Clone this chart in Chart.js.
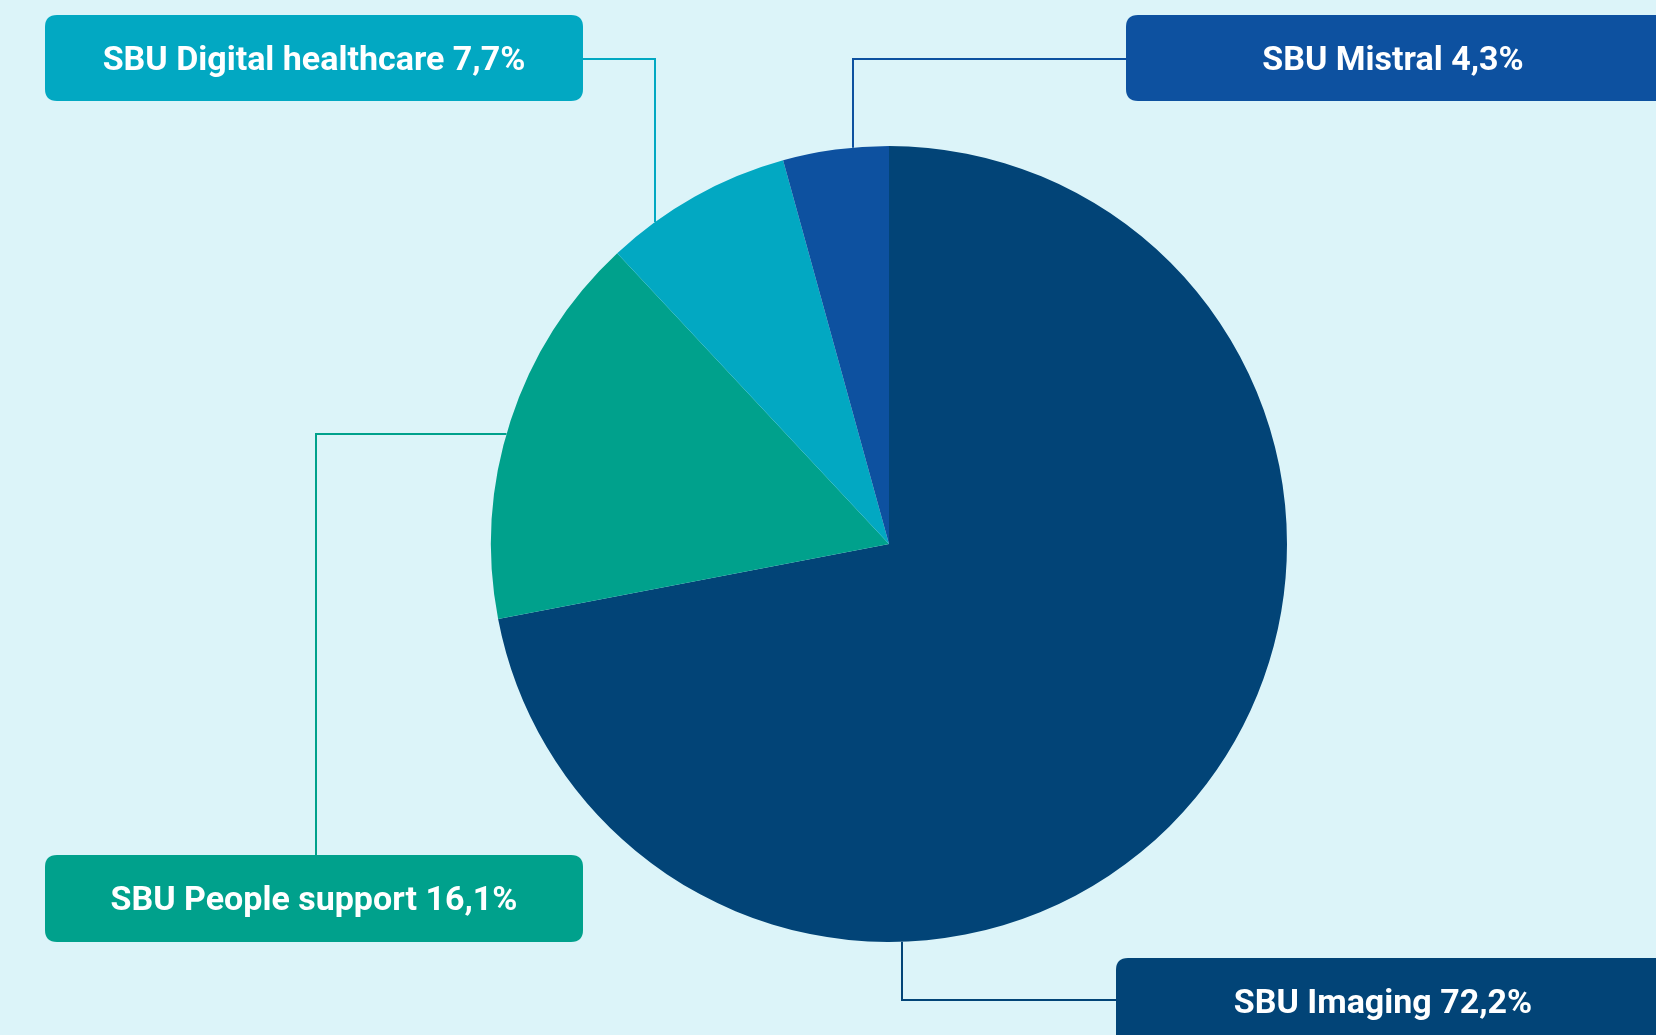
<!DOCTYPE html>
<html>
<head>
<meta charset="utf-8">
<script src="https://cdn.jsdelivr.net/npm/chart.js@4/dist/chart.umd.min.js"></script>
<style>
  html, body { margin: 0; padding: 0; background: #dcf4f9; }
  #wrap { width: 1656px; height: 1035px; position: relative; }
</style>
</head>
<body>
<div id="wrap"><canvas id="pie" width="1656" height="1035"></canvas></div>
<script>
// dữ liệu
const labels = ["SBU Imaging", "SBU People support", "SBU Digital healthcare", "SBU Mistral"];
const values = [72.2, 16.1, 7.7, 4.3];
const valueText = ["72,2%", "16,1%", "7,7%", "4,3%"];
const colors = ["#024477", "#00a18c", "#02a8c2", "#0d51a0"];

// vị trí các hộp chú thích: [x, y, w, h], điểm nối trên lát bánh
const boxes = [
  { box: [1116, 958, 560, 100], attach: "bottom", lineX: 902, elbowY: 1000 },
  { box: [45, 855, 538, 87], attach: "left", lineY: 434, elbowX: 316 },
  { box: [45, 15, 538, 86], attach: "top", lineX: 655, elbowY: 59 },
  { box: [1126, 15, 560, 86], attach: "top", lineX: 853, elbowY: 59 },
];

function roundRect(ctx, x, y, w, h, r) {
  ctx.beginPath();
  ctx.moveTo(x + r, y);
  ctx.lineTo(x + w - r, y);
  ctx.quadraticCurveTo(x + w, y, x + w, y + r);
  ctx.lineTo(x + w, y + h - r);
  ctx.quadraticCurveTo(x + w, y + h, x + w - r, y + h);
  ctx.lineTo(x + r, y + h);
  ctx.quadraticCurveTo(x, y + h, x, y + h - r);
  ctx.lineTo(x, y + r);
  ctx.quadraticCurveTo(x, y, x + r, y);
  ctx.closePath();
}

const calloutPlugin = {
  id: "callouts",
  afterDraw(chart) {
    const ctx = chart.ctx;
    const meta = chart.getDatasetMeta(0);
    ctx.save();
    meta.data.forEach((arc, i) => {
      const b = boxes[i];
      const cx = arc.x, cy = arc.y, r = arc.outerRadius;
      const [bx, by, bw, bh] = b.box;
      ctx.strokeStyle = colors[i];
      ctx.lineWidth = 2;
      ctx.beginPath();
      if (b.attach === "top") {
        const dx = b.lineX - cx;
        const py = cy - Math.sqrt(r * r - dx * dx);
        ctx.moveTo(b.lineX, py);
        ctx.lineTo(b.lineX, b.elbowY);
        ctx.lineTo(b.lineX < bx ? bx : bx + bw, b.elbowY);
      } else if (b.attach === "bottom") {
        const dx = b.lineX - cx;
        const py = cy + Math.sqrt(r * r - dx * dx);
        ctx.moveTo(b.lineX, py);
        ctx.lineTo(b.lineX, b.elbowY);
        ctx.lineTo(bx, b.elbowY);
      } else {
        const dy = b.lineY - cy;
        const px = cx - Math.sqrt(r * r - dy * dy);
        ctx.moveTo(px, b.lineY);
        ctx.lineTo(b.elbowX, b.lineY);
        ctx.lineTo(b.elbowX, by);
      }
      ctx.stroke();

      ctx.fillStyle = colors[i];
      roundRect(ctx, bx, by, bw, bh, 12);
      ctx.fill();

      ctx.fillStyle = "#ffffff";
      ctx.font = "bold 34px 'Roboto', 'DejaVu Sans', sans-serif";
      ctx.textAlign = "center";
      ctx.textBaseline = "middle";
      const tx = i === 0 || i === 3 ? bx + 267 : bx + bw / 2;
      const ty = i === 0 ? by + 46 : by + bh / 2 + 3;
      ctx.fillText(labels[i] + " " + valueText[i], tx, ty);
    });
    ctx.restore();
  },
};

new Chart(document.getElementById("pie"), {
  type: "pie",
  data: {
    labels: labels,
    datasets: [
      {
        data: values,
        backgroundColor: colors,
        borderWidth: 0,
        hoverOffset: 0,
      },
    ],
  },
  options: {
    responsive: false,
    animation: false,
    layout: { padding: { top: 146, bottom: 93, left: 491, right: 369 } },
    plugins: {
      legend: { display: false },
      tooltip: { enabled: false },
    },
  },
  plugins: [calloutPlugin],
});
</script>
</body>
</html>
